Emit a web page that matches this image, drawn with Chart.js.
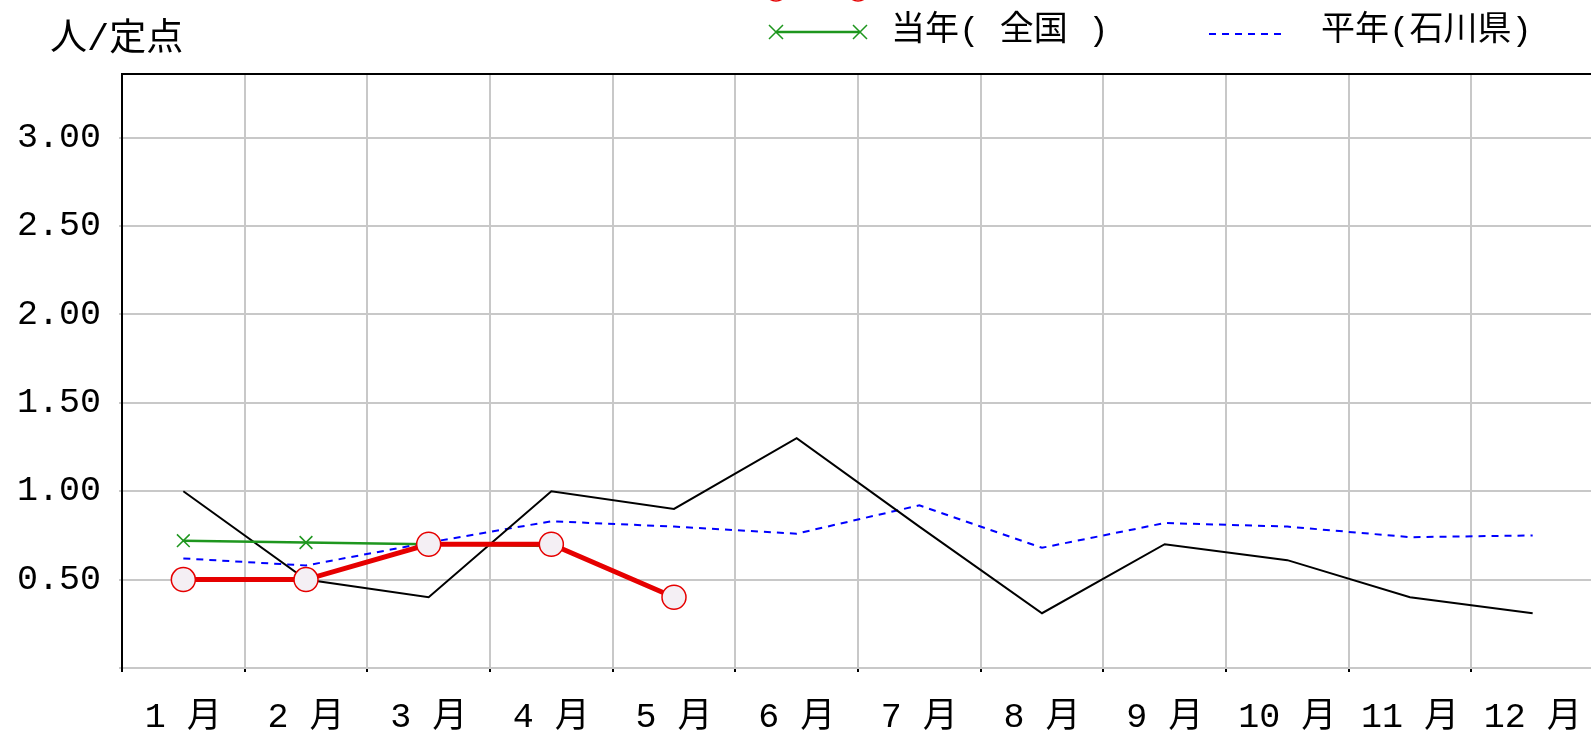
<!DOCTYPE html>
<html lang="ja">
<head>
<meta charset="UTF-8">
<title>人/定点</title>
<script src="https://cdn.jsdelivr.net/npm/chart.js"></script>
<style>
  body { margin: 0; overflow: hidden; background: #fff; }
  canvas { position: absolute; left: 0; top: 0; }
</style>
</head>
<body>
<canvas id="chart" width="1620" height="735"></canvas>
<script>
const months = ['1 月', '2 月', '3 月', '4 月', '5 月', '6 月', '7 月', '8 月', '9 月', '10 月', '11 月', '12 月'];
const yTicks = [0, 0.5, 1.0, 1.5, 2.0, 2.5, 3.0];

// 当年(石川県)
const thisYearPref = [0.50, 0.50, 0.70, 0.70, 0.40, null, null, null, null, null, null, null];
// 当年(全国)
const thisYearNation = [0.72, 0.71, 0.70, 0.69, null, null, null, null, null, null, null, null];
// 前年(石川県)
const lastYearPref = [1.00, 0.50, 0.40, 1.00, 0.90, 1.30, 0.80, 0.31, 0.70, 0.61, 0.40, 0.31];
// 平年(石川県)
const normalPref = [0.62, 0.58, 0.71, 0.83, 0.80, 0.76, 0.92, 0.68, 0.82, 0.80, 0.74, 0.75];

const FONT = '"Liberation Mono", "Noto Sans CJK JP", sans-serif';

// legend + axis title, the top row of the legend is cut off by the frame
const extras = {
  id: 'extras',
  afterDraw(chart) {
    const ctx = chart.ctx;
    const a = chart.chartArea;
    ctx.save();
    // top border of plot
    ctx.strokeStyle = '#000';
    ctx.lineWidth = 2;
    ctx.beginPath();
    ctx.moveTo(a.left - 1, a.top);
    ctx.lineTo(a.right + 10, a.top);
    ctx.stroke();

    ctx.font = '37px ' + FONT;
    ctx.fillStyle = '#000';
    ctx.textBaseline = 'middle';
    ctx.fillText('人/定点', 50, 40);

    ctx.font = '34px ' + FONT;
    // red row (clipped)
    ctx.strokeStyle = 'rgb(230,0,0)';
    ctx.lineWidth = 5;
    ctx.beginPath(); ctx.moveTo(776, -10); ctx.lineTo(858, -10); ctx.stroke();
    ctx.lineWidth = 1.5;
    ctx.fillStyle = '#f4eff4';
    [776, 858].forEach(x => { ctx.beginPath(); ctx.arc(x, -10, 11, 0, Math.PI * 2); ctx.fill(); ctx.stroke(); });

    // green row
    ctx.strokeStyle = 'rgb(30,150,30)';
    ctx.lineWidth = 2.5;
    ctx.beginPath(); ctx.moveTo(776, 32); ctx.lineTo(860, 32); ctx.stroke();
    ctx.lineWidth = 1.5;
    [776, 860].forEach(x => {
      ctx.beginPath();
      ctx.moveTo(x - 7, 25); ctx.lineTo(x + 7, 39);
      ctx.moveTo(x + 7, 25); ctx.lineTo(x - 7, 39);
      ctx.stroke();
    });
    ctx.fillStyle = '#000';
    ctx.fillText('当年( 全国 )', 891, 31);

    // blue row
    ctx.strokeStyle = 'rgb(0,0,255)';
    ctx.lineWidth = 2;
    ctx.setLineDash([7, 6]);
    ctx.beginPath(); ctx.moveTo(1209, 34); ctx.lineTo(1282, 34); ctx.stroke();
    ctx.setLineDash([]);
    ctx.fillText('平年(石川県)', 1321, 31);
    ctx.restore();
  }
};

new Chart(document.getElementById('chart'), {
  type: 'line',
  data: {
    labels: months,
    datasets: [
      {
        label: '当年(石川県)', data: thisYearPref, order: 0,
        borderColor: 'rgb(230,0,0)', borderWidth: 5,
        pointRadius: 12, pointBorderWidth: 1.5,
        pointBackgroundColor: '#f4eff4', pointBorderColor: 'rgb(230,0,0)'
      },
      {
        label: '当年(全国)', data: thisYearNation, order: 1,
        borderColor: 'rgb(30,150,30)', borderWidth: 2.5,
        pointStyle: 'crossRot', pointRadius: 9, pointBorderWidth: 1.5,
        pointBorderColor: 'rgb(30,150,30)'
      },
      {
        label: '前年(石川県)', data: lastYearPref, order: 2,
        borderColor: '#000', borderWidth: 2, pointRadius: 0
      },
      {
        label: '平年(石川県)', data: normalPref, order: 3,
        borderColor: 'rgb(0,0,255)', borderWidth: 2, borderDash: [7, 6], pointRadius: 0
      }
    ]
  },
  options: {
    responsive: false,
    animation: false,
    devicePixelRatio: 1,
    layout: { padding: { top: 74, right: 26, left: 0, bottom: 0 } },
    plugins: { legend: { display: false }, tooltip: { enabled: false } },
    scales: {
      x: {
        offset: true,
        grid: { offset: true, color: '#c8c8c8', lineWidth: 2, tickColor: '#000', tickLength: 4 },
        border: { color: '#c8c8c8', width: 2 },
        ticks: { color: '#000', font: { size: 35, family: FONT }, padding: 25, maxRotation: 0, autoSkip: false },
        afterFit(s) { s.height = 67; }
      },
      y: {
        min: 0, max: 3.36,
        afterBuildTicks(s) { s.ticks = yTicks.map(v => ({ value: v })); },
        grid: { color: '#c8c8c8', lineWidth: 2, tickLength: 3 },
        border: { color: '#000', width: 2 },
        ticks: {
          color: '#000', font: { size: 35, family: FONT }, padding: 18,
          callback: v => v === 0 ? '' : Number(v).toFixed(2)
        },
        afterFit(s) { s.width = 122; }
      }
    }
  },
  plugins: [extras]
});
</script>
</body>
</html>
